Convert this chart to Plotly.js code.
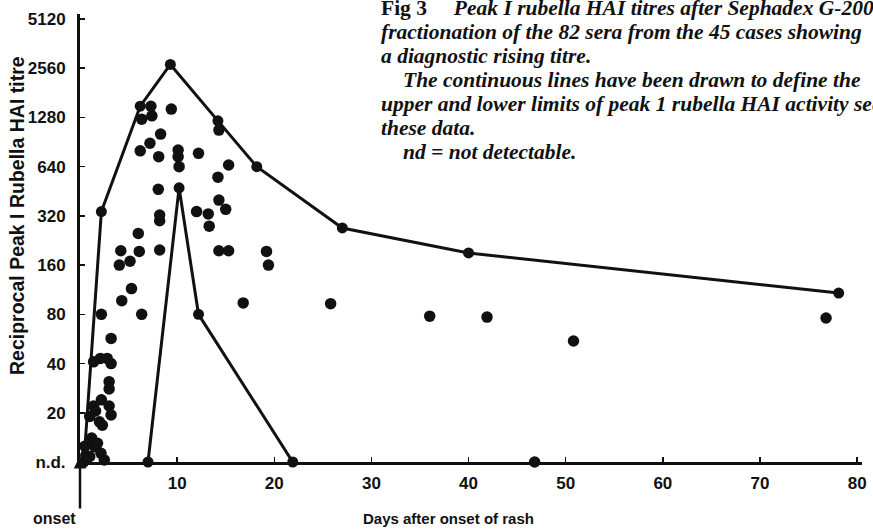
<!DOCTYPE html>
<html>
<head>
<meta charset="utf-8">
<script src="https://cdn.plot.ly/plotly-3.0.1.min.js"></script>
<style>html,body{margin:0;padding:0;background:#fff;overflow:hidden}#chart{width:873px;height:531px}</style>
</head>
<body>
<div id="chart"></div>
<script>
// Individual sera: days after onset of rash, reciprocal peak I titre (n.d. plotted at 10)
const seraDays = [0.3, 0.6, 0.8, 1.0, 1.3, 1.5, 1.65, 2.16, 2.5, 0.5,
  1.2, 1.8,
  1.0, 1.6, 2.2, 3.0, 3.2, 2.0, 2.3, 1.4,
  3.0, 3.0,
  1.4, 2.1, 2.8, 3.2,
  3.2, 2.2, 4.3, 5.3, 4.05, 5.15, 4.2, 6.1, 6.0, 6.35,
  8.2, 8.2, 8.2, 8.06, 8.3, 7.2, 6.2, 8.1, 10.1, 10.1, 10.2, 12.2, 12.0, 13.2, 13.3,
  9.4, 7.3, 6.35, 7.4,
  14.3, 15.3, 14.2, 14.3, 15.0, 14.3, 15.3, 19.2, 19.4,
  16.8, 25.8, 36.0, 41.9, 50.8, 76.8, 46.8];
const seraTitres = [9.5, 11, 9.0, 10.8, 8.3, 12.4, 9.4, 11.3, 10.3, 12.5,
  14, 13,
  19, 20.5, 24, 22, 19.4, 17.6, 16.8, 22,
  31, 28,
  41, 43, 43, 40,
  57, 80, 97, 115, 160, 169, 196, 194, 250, 80,
  198, 324, 299, 465, 1013, 890, 800, 737, 810, 737, 640, 772, 340, 329, 277,
  1440, 1500, 1250, 1310,
  1072, 655, 552, 400, 351, 196, 196, 194, 160,
  94, 93, 78, 77, 55, 76, 10];

// Upper limit line
const upperDays = [0.4, 2.2, 6.2, 9.3, 14.2, 18.2, 27.0, 40.0, 78.1];
const upperTitres = [10, 340, 1500, 2700, 1220, 640, 270, 190, 108];

// Lower limit line
const lowerDays = [7.0, 10.2, 12.2, 21.9];
const lowerTitres = [10, 475, 80, 10];

// Axis ticks
const yTickVals = [10, 20, 40, 80, 160, 320, 640, 1280, 2560, 5120];
const yTickText = ['n.d.', '20', '40', '80', '160', '320', '640', '1280', '2560', '5120'];
const xTickVals = [10, 20, 30, 40, 50, 60, 70, 80];

// Caption lines
const captionLines = [
  '<b>Fig 3</b>     <b><i>Peak I rubella HAI titres after Sephadex G-200</i></b>',
  '<b><i>fractionation of the 82 sera from the 45 cases showing</i></b>',
  '<b><i>a diagnostic rising titre.</i></b>',
  '<b><i>The continuous lines have been drawn to define the</i></b>',
  '<b><i>upper and lower limits of peak 1 rubella HAI activity seen in</i></b>',
  '<b><i>these data.</i></b>',
  '<b><i>nd = not detectable.</i></b>'
];
const captionIndent = [0, 0, 0, 1, 0, 0, 1];

// pixel helpers for layout placement
const L = 80, T = 14, W = 782, H = 448;
const px = p => (p - L) / W;
const py = p => (T + H - p) / H;

const sansBold = {family: 'Liberation Sans, Arial, sans-serif', size: 17, color: '#111', weight: 'bold'};

const traces = [
  {x: upperDays, y: upperTitres, type: 'scatter', mode: 'lines+markers',
   line: {color: '#111', width: 3}, marker: {color: '#111', size: 11}, cliponaxis: false, hoverinfo: 'skip'},
  {x: lowerDays, y: lowerTitres, type: 'scatter', mode: 'lines+markers',
   line: {color: '#111', width: 3}, marker: {color: '#111', size: 11}, cliponaxis: false, hoverinfo: 'skip'},
  {x: seraDays, y: seraTitres, type: 'scatter', mode: 'markers',
   marker: {color: '#111', size: 11.5}, cliponaxis: false, hoverinfo: 'skip'}
];

const annotations = [];
captionLines.forEach((t, i) => {
  annotations.push({
    xref: 'paper', yref: 'paper', x: px(captionIndent[i] ? 401 : 379), y: py(8 + 24 * i),
    xanchor: 'left', yanchor: 'middle', showarrow: false, align: 'left', text: t,
    font: {family: 'Liberation Serif, Times New Roman, serif', size: 21.5, color: '#111'}
  });
});
annotations.push({xref: 'paper', yref: 'paper', x: px(17), y: py(216), textangle: -90,
  xanchor: 'center', yanchor: 'middle', showarrow: false, text: 'Reciprocal Peak I Rubella HAI titre',
  font: Object.assign({}, sansBold, {size: 19.5})});
annotations.push({xref: 'paper', yref: 'paper', x: px(448), y: py(518),
  xanchor: 'center', yanchor: 'middle', showarrow: false, text: 'Days after onset of rash',
  font: Object.assign({}, sansBold, {size: 15})});
annotations.push({xref: 'paper', yref: 'paper', x: px(54), y: py(518),
  xanchor: 'center', yanchor: 'middle', showarrow: false, text: 'onset',
  font: Object.assign({}, sansBold, {size: 16})});
annotations.push({xref: 'x', yref: 'paper', x: 0, y: py(456), ax: 0, ay: 54,
  showarrow: true, arrowhead: 2, arrowsize: 1, arrowwidth: 2.5, arrowcolor: '#111', text: ''});

const layout = {
  width: 873, height: 531,
  margin: {l: L, r: 873 - L - W, t: T, b: 531 - T - H, pad: 0},
  paper_bgcolor: '#fff', plot_bgcolor: '#fff',
  showlegend: false,
  xaxis: {range: [0, 80.5], tickvals: xTickVals, ticks: 'inside', ticklen: 5, tickwidth: 1.5,
    tickcolor: '#111', showline: true, linewidth: 2.5, linecolor: '#111', showgrid: false,
    zeroline: false, tickfont: sansBold, ticklabelstandoff: 4},
  yaxis: {type: 'log', range: [1, 3.74], tickvals: yTickVals, ticktext: yTickText,
    ticks: 'inside', ticklen: 5, tickwidth: 1.5, tickcolor: '#111', showline: true,
    linewidth: 3, linecolor: '#111', showgrid: false, zeroline: false, tickfont: sansBold,
    ticklabelstandoff: 8},
  annotations: annotations
};

Plotly.newPlot('chart', traces, layout, {staticPlot: true, displayModeBar: false});
</script>
</body>
</html>
